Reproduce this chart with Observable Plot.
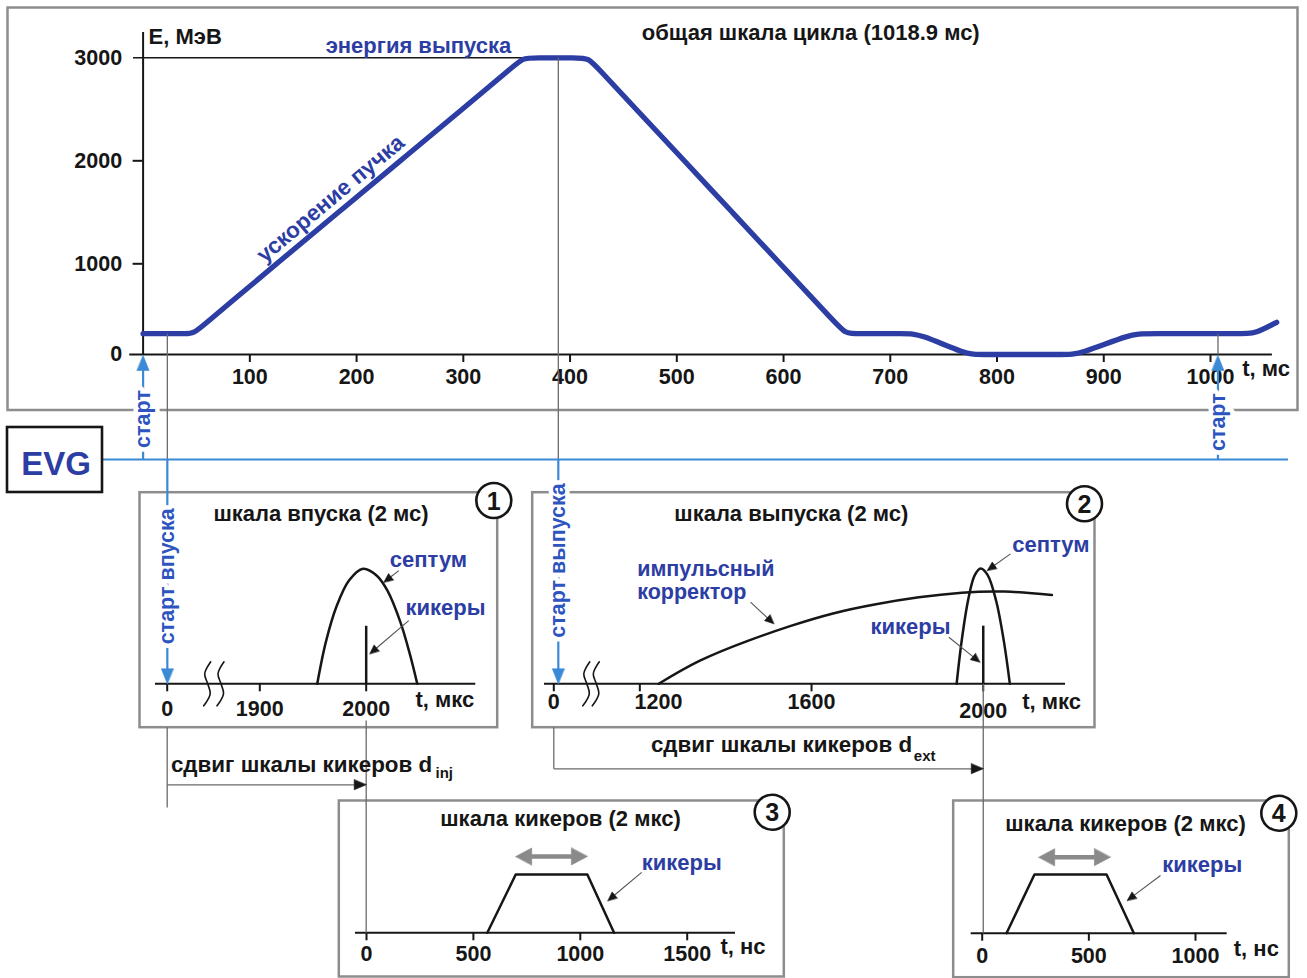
<!DOCTYPE html>
<html lang="ru">
<head>
<meta charset="utf-8">
<title>Шкалы синхронизации</title>
<script src="https://cdn.jsdelivr.net/npm/d3@7"></script>
<script src="https://cdn.jsdelivr.net/npm/@observablehq/plot@0.6"></script>
<style>
  html, body { margin: 0; padding: 0; background: #fff; }
  #root { position: relative; width: 1307px; height: 978px; overflow: hidden; background: #fff; }
  #root > svg { position: absolute; left: 0; top: 0; }
</style>
</head>
<body>
<div id="root"></div>
<script>
// ================= DATA =================
// Общая шкала цикла: энергия пучка E (МэВ) от времени t (мс)
const cycleT = [0, 28, 40, 47, 57, 86, 125, 183, 241, 300, 346, 356, 366, 407, 417, 427, 462, 507, 552, 597, 648, 658, 668, 715, 727, 771, 783, 865, 877, 926, 938, 1030, 1042, 1062];
const cycleE = [230, 230, 230, 230, 328, 614, 1000, 1501, 2000, 2510, 2908, 3000, 3000, 3000, 3000, 2889, 2500, 2000, 1500, 1000, 356, 230, 230, 230, 230, 0, 0, 0, 0, 230, 230, 230, 230, 355];
const energyTicks = [0, 1000, 2000, 3000];
const cycleTicks = [100, 200, 300, 400, 500, 600, 700, 800, 900, 1000];
const extractionEnergy = 3000;
const injectionEnergy = 230;
const cycleLength = 1018.9;
const injectionStart = 22.7, extractionStart = 389, nextCycleStart = 1007; // мс

// (1) шкала впуска, мкс; относительные амплитуды
const injTicks = [0, 1900, 2000];
const injSeptumT = [1954, 1962, 1972, 1984, 1997, 2010, 2020, 2032, 2041, 2048];
const injSeptumA = [0, 0.36, 0.67, 0.90, 1.0, 0.94, 0.81, 0.54, 0.26, 0];
const injKickerT = 2000, injKickerA = 0.5;

// (2) шкала выпуска, мкс
const extTicks = [0, 1200, 1600, 2000];
const extCorrT = [1244, 1340, 1450, 1550, 1650, 1750, 1850, 1950, 2050, 2160];
const extCorrA = [0, 0.20, 0.37, 0.50, 0.61, 0.69, 0.75, 0.79, 0.80, 0.77];
const extSeptumT = [1938, 1950, 1965, 1980, 1994, 2010, 2030, 2048, 2062];
const extSeptumA = [0, 0.38, 0.73, 0.94, 1.0, 0.945, 0.72, 0.37, 0];
const extKickerT = 2000, extKickerA = 0.5;

// (3), (4) шкалы кикеров, нс
const kick3Ticks = [0, 500, 1000, 1500];
const kick3T = [565, 698, 1033, 1158];
const kick3A = [0, 1, 1, 0];
const kick4Ticks = [0, 500, 1000];
const kick4T = [114, 245, 583, 711];
const kick4A = [0, 1, 1, 0];

// ================= STYLE / LAYOUT =================
const W = 1307, H = 978;
const FONT = "'Liberation Sans', Arial, Helvetica, sans-serif";
const INK = "#161616", DARK = "#2c3da3", LIGHT = "#3a8ad6", START = "#2e55bf",
      FRAME = "#8d8d8d", GREY = "#6a6a6a", ARROWG = "#8a8a8a";
const LAY = {
  topBox: [7, 7, 1297, 409.5],
  p1Box: [139, 491.7, 496.7, 726.7],
  p2Box: [531.7, 491.7, 1094, 726.7],
  p3Box: [338.3, 800, 783.3, 976],
  p4Box: [952.7, 800, 1288.3, 976.7],
  evgY: 459, evgBox: [7, 427, 102, 492], evgEnd: 1288,
  dInjY: 784.3, dInjDrop: 807, dExtY: 768.3, panelBottom: 726.7, labelBelow: 720
};

const root = document.getElementById("root");
const f = (size, extra = {}) => ({fontFamily: FONT, fontWeight: "bold", fontSize: size, fill: INK, ...extra});
const rows = (xs, ys) => xs.map((v, i) => ({t: v, v: ys[i]}));

function mount(svg) {
  svg.style.position = "absolute"; svg.style.left = "0px"; svg.style.top = "0px";
  svg.style.background = "transparent"; svg.style.overflow = "visible";
  root.appendChild(svg);
  return svg;
}
function framed(box, x, y, marks) {
  const [l, t, r, b] = box;
  return mount(Plot.plot({
    width: W, height: H, marginLeft: l, marginTop: t, marginRight: W - r, marginBottom: H - b,
    x: {...x, axis: null}, y: {...y, axis: null},
    style: {background: "transparent", overflow: "visible"},
    marks: [Plot.frame({stroke: FRAME, strokeWidth: 2.5}), ...marks]
  }));
}
function badge(n, dx, dy) {
  return [
    Plot.dot([n], {frameAnchor: "top-right", dx, dy, r: 17.5, fill: "white", stroke: INK, strokeWidth: 2.6}),
    Plot.text([n], {frameAnchor: "top-right", dx, dy: dy + 1, text: d => String(d), textAnchor: "middle", lineAnchor: "middle", ...f(25)})
  ];
}
function title(s, dx, dy) {
  return Plot.text([s], {frameAnchor: "top-left", dx, dy, text: d => d, textAnchor: "middle", lineAnchor: "bottom", ...f(22)});
}
function baseAxis(ticks, x1, x2) {
  return [
    Plot.ruleY([0], {x1, x2, stroke: INK, strokeWidth: 2}),
    Plot.ruleX(ticks, {y1: 0, y2: 0, insetBottom: -8, stroke: INK, strokeWidth: 2})
  ];
}
const tickText = (ticks, dy, extra = {}) =>
  Plot.text(ticks, {x: d => d, y: 0, text: d => String(d), lineAnchor: "bottom", dy, ...f(21.5), ...extra});
const label = (s, x, y, extra = {}) =>
  Plot.text([s], {x, y, text: d => d, textAnchor: "start", lineAnchor: "bottom", ...f(22, {fill: DARK}), ...extra});

// ================= TOP: общая шкала цикла =================
const topPlot = framed(LAY.topBox,
  {type: "linear", domain: [0, 1000], range: [142.6, 1210]},
  {type: "linear", domain: [0, 1000, 3000], range: [354, 263.3, 57.3]},
  [
    Plot.ruleY([extractionEnergy], {x1: -9, x2: 362, stroke: INK, strokeWidth: 1.6}),
    Plot.ruleX([0], {y1: 0, y2: 3245, stroke: INK, strokeWidth: 2}),
    Plot.ruleY([0], {x1: -12.5, x2: 1058, stroke: INK, strokeWidth: 2}),
    Plot.ruleY(energyTicks.filter(d => d > 0 && d < extractionEnergy), {x1: 0, x2: 0, insetLeft: -10, stroke: INK, strokeWidth: 2}),
    Plot.ruleX(cycleTicks, {y1: 0, y2: 0, insetBottom: -8, stroke: INK, strokeWidth: 2}),
    Plot.line(cycleT.map((t, i) => ({t, E: cycleE[i]})), {x: "t", y: "E", curve: "basis", stroke: DARK, strokeWidth: 5.3, strokeLinecap: "round"}),
    Plot.text(energyTicks, {x: 0, y: d => d, text: d => String(d), textAnchor: "end", dx: -21, ...f(21.5)}),
    tickText(cycleTicks, 29),
    Plot.text(["t, мс"], {x: 1029.7, y: 0, dy: 21, text: d => d, textAnchor: "start", lineAnchor: "bottom", ...f(22)}),
    Plot.text(["E, МэВ"], {x: 0, y: extractionEnergy, dx: 5.5, dy: -14.3, text: d => d, textAnchor: "start", lineAnchor: "bottom", ...f(22)}),
    label("энергия выпуска", 171, extractionEnergy, {dy: -5.3}),
    Plot.text([`общая шкала цикла (${cycleLength} мс)`], {x: 625.5, y: extractionEnergy, dy: -18.3, text: d => d, textAnchor: "middle", lineAnchor: "bottom", ...f(22)}),
    Plot.text(["ускорение пучка"], {x: 175.6, y: 1632, rotate: -40, text: d => d, textAnchor: "middle", ...f(22.5, {fill: DARK})})
  ]);

// ================= (1) шкала впуска =================
const p1 = framed(LAY.p1Box,
  {type: "linear", domain: [0, 1850, 2105], range: [166.7, 206.1, 477.4]},
  {type: "linear", domain: [0, 1], range: [683.3, 568.3]},
  [
    ...baseAxis(injTicks, -550, 2103),
    Plot.line(rows(injSeptumT, injSeptumA), {x: "t", y: "v", curve: "catmull-rom", stroke: INK, strokeWidth: 2.5}),
    Plot.ruleX([injKickerT], {y1: 0, y2: injKickerA, stroke: INK, strokeWidth: 2.5}),
    tickText(injTicks, 32),
    Plot.text(["t, мкс"], {x: 2046.3, y: 0, dy: 23.4, text: d => d, textAnchor: "start", lineAnchor: "bottom", ...f(22)}),
    label("септум", 2022.2, 1.014),
    label("кикеры", 2036.9, 0.594),
    title("шкала впуска (2 мс)", 181.5, 28.3),
    ...badge(1, -3.4, 8.3)
  ]);

// ================= (2) шкала выпуска =================
const p2 = framed(LAY.p2Box,
  {type: "linear", domain: [0, 1100, 2200], range: [553.3, 596.4, 1068.6]},
  {type: "linear", domain: [0, 1], range: [683.3, 568]},
  [
    ...baseAxis(extTicks, -237, 2191.7),
    Plot.line(rows(extCorrT, extCorrA), {x: "t", y: "v", curve: "natural", stroke: INK, strokeWidth: 2.5}),
    Plot.line(rows(extSeptumT, extSeptumA), {x: "t", y: "v", curve: "catmull-rom", stroke: INK, strokeWidth: 2.5}),
    Plot.ruleX([extKickerT], {y1: 0, y2: extKickerA, stroke: INK, strokeWidth: 2.5}),
    tickText(extTicks.filter(d => d === 0 || d === 1600), 25),
    tickText(extTicks.filter(d => d === 1200), 25, {dx: 18.7}),
    tickText(extTicks.filter(d => d === 2000), 34),
    Plot.text(["t, мкс"], {x: 2090.8, y: 0, dy: 25, text: d => d, textAnchor: "start", lineAnchor: "bottom", ...f(22)}),
    label("септум", 2067.5, 1.141),
    label("кикеры", 1737.5, 0.434),
    label("импульсный", 1193.9, 0.933, {fontSize: 21.5}),
    label("корректор", 1193.9, 0.733, {fontSize: 21.5}),
    title("шкала выпуска (2 мс)", 259.1, 28.3),
    ...badge(2, -10, 11.6)
  ]);

// ================= (3) шкала кикеров (впуск) =================
const p3 = framed(LAY.p3Box,
  {type: "linear", domain: [0, 1500], range: [366, 686.7]},
  {type: "linear", domain: [0, 1], range: [932.3, 874]},
  [
    ...baseAxis(kick3Ticks, -51.4, 1726),
    Plot.line(rows(kick3T, kick3A), {x: "t", y: "v", stroke: INK, strokeWidth: 2.5}),
    tickText(kick3Ticks, 27.7),
    Plot.text(["t, нс"], {x: 1655.7, y: 0, dy: 20.7, text: d => d, textAnchor: "start", lineAnchor: "bottom", ...f(22)}),
    label("кикеры", 1287, 1.08),
    title("шкала кикеров (2 мкс)", 221.7, 25),
    ...badge(3, -11.6, 11.7)
  ]);

// ================= (4) шкала кикеров (выпуск) =================
const p4 = framed(LAY.p4Box,
  {type: "linear", domain: [0, 1000], range: [981.7, 1195]},
  {type: "linear", domain: [0, 1], range: [932.7, 874]},
  [
    ...baseAxis(kick4Ticks, -51.6, 1148.6),
    Plot.line(rows(kick4T, kick4A), {x: "t", y: "v", stroke: INK, strokeWidth: 2.5}),
    tickText(kick4Ticks, 29.5),
    Plot.text(["t, нс"], {x: 1179.5, y: 0, dy: 22.3, text: d => d, textAnchor: "start", lineAnchor: "bottom", ...f(22)}),
    label("кикеры", 843.9, 1.039),
    title("шкала кикеров (2 мкс)", 172.3, 30),
    ...badge(4, -10, 12.7)
  ]);

// ================= OVERLAY: EVG, связи, стрелки =================
const sc = (p, k) => { const s = p.scale(k); return v => s.apply(v); };
const TX = sc(topPlot, "x"), TY = sc(topPlot, "y");
const X1 = sc(p1, "x"), Y1 = sc(p1, "y");
const X2 = sc(p2, "x"), Y2 = sc(p2, "y");
const X3 = sc(p3, "x"), Y3 = sc(p3, "y");
const X4 = sc(p4, "x"), Y4 = sc(p4, "y");

function arrow(x1, y1, x2, y2, len, hw) {
  const dx = x2 - x1, dy = y2 - y1, n = Math.hypot(dx, dy), ux = dx / n, uy = dy / n;
  const bx = x2 - ux * len, by = y2 - uy * len;
  return {shaft: {x1, y1, x2: bx + ux * 0.5, y2: by + uy * 0.5},
          head: [[x2, y2], [bx - uy * hw, by + ux * hw], [bx + uy * hw, by - ux * hw]]};
}
let hid = 0;
const headRows = (h) => { const id = hid++; return h.map(([x, y]) => ({id, x, y})); };

// gray connector lines
const greyLines = [
  {x1: TX(injectionStart), y1: TY(injectionEnergy), x2: TX(injectionStart), y2: LAY.evgY},
  {x1: TX(extractionStart), y1: TY(extractionEnergy), x2: TX(extractionStart), y2: LAY.evgY},
  {x1: TX(nextCycleStart), y1: TY(injectionEnergy), x2: TX(nextCycleStart), y2: TY(0)},
  {x1: X1(0), y1: LAY.panelBottom, x2: X1(0), y2: LAY.dInjDrop},
  {x1: X1(injKickerT), y1: LAY.labelBelow, x2: X1(injKickerT), y2: Y3(0)},
  {x1: X2(0), y1: LAY.panelBottom, x2: X2(0), y2: LAY.dExtY},
  {x1: X2(extKickerT), y1: Y2(0), x2: X2(extKickerT), y2: Y4(0)}
];

// blue start arrows from EVG
const blueArrows = [
  arrow(TX(0), LAY.evgY, TX(0), TY(0) + 1, 15, 6),
  arrow(TX(nextCycleStart), LAY.evgY, TX(nextCycleStart), TY(0) + 1, 15, 6),
  arrow(TX(injectionStart), LAY.evgY, TX(injectionStart), Y1(0), 15, 6),
  arrow(TX(extractionStart), LAY.evgY, TX(extractionStart), Y2(0), 15, 6)
];
// kicker delay arrows d_inj, d_ext
const shiftArrows = [
  arrow(X1(0), LAY.dInjY, X1(injKickerT), LAY.dInjY, 12, 5),
  arrow(X2(0), LAY.dExtY, X2(extKickerT), LAY.dExtY, 12, 5)
];
// pointer arrows of labels (defined in each panel's units)
const noteArrows = [
  arrow(X1(2030.7), Y1(0.984), X1(2016.6), Y1(0.883), 9, 4),
  arrow(X1(2040), Y1(0.55), X1(2003.4), Y1(0.261), 9, 4),
  arrow(X2(2063.6), Y2(1.127), X2(2009.3), Y2(0.983), 9, 4),
  arrow(X2(1919.9), Y2(0.404), X2(1992.1), Y2(0.187), 9, 4),
  arrow(X2(1457.9), Y2(0.708), X2(1512.2), Y2(0.52), 9, 4),
  arrow(X3(1287), Y3(1.037), X3(1128.6), Y3(0.55), 9, 4),
  arrow(X4(835.9), Y4(0.983), X4(679.8), Y4(0.557), 9, 4)
];
// gray double arrows over the kicker flat-top
function doubleArrow(xa, xb, y) {
  const a = arrow(xb, y, xa, y, 16, 8.5), b = arrow(xa, y, xb, y, 16, 8.5);
  return {shaft: {x1: a.shaft.x2, y1: y, x2: b.shaft.x2, y2: y}, heads: [a.head, b.head]};
}
const doubles = [
  doubleArrow(X3(kick3T[1]), X3(kick3T[2]), Y3(1.309)),
  doubleArrow(X4(kick4T[1] + 20), X4(kick4T[2] + 18), Y4(1.295))
];
// axis breaks (squiggles)
const squigShape = [[3.5, -22], [-2.5, -10], [0.5, 0], [3, 10], [-3.5, 22]];
const squigCenters = [[X1(0) + 40, Y1(0)], [X1(0) + 53.3, Y1(0)], [X2(0) + 32.5, Y2(0)], [X2(0) + 42, Y2(0)]];
const squigRows = squigCenters.flatMap(([cx, cy], id) => squigShape.map(([dx, dy]) => ({id, x: cx + dx, y: cy + dy})));

const startLabels = [
  {x: TX(0), y: 418.5, text: "старт"},
  {x: TX(nextCycleStart), y: 421.7, text: "старт"},
  {x: TX(injectionStart), y: 575.8, text: "старт впуска"},
  {x: TX(extractionStart), y: 560, text: "старт выпуска"}
];

const link = (data, stroke, strokeWidth) => Plot.link(data, {x1: "x1", y1: "y1", x2: "x2", y2: "y2", stroke, strokeWidth});
const heads = (list, fill) => Plot.line(list.flatMap(headRows), {x: "x", y: "y", z: "id", curve: "linear-closed", fill, stroke: fill, strokeWidth: 0.6});

mount(Plot.plot({
  width: W, height: H, margin: 0,
  x: {type: "identity", axis: null}, y: {type: "identity", axis: null},
  style: {background: "transparent", overflow: "visible"},
  marks: [
    link(greyLines, GREY, 1.3),
    Plot.ruleY([LAY.evgY], {x1: LAY.evgBox[2], x2: LAY.evgEnd, stroke: LIGHT, strokeWidth: 2.2}),
    Plot.rect([0], {x1: LAY.evgBox[0], y1: LAY.evgBox[1], x2: LAY.evgBox[2], y2: LAY.evgBox[3], fill: "white", stroke: INK, strokeWidth: 2.6}),
    Plot.text(["EVG"], {x: (LAY.evgBox[0] + LAY.evgBox[2]) / 2 + 1, y: 474, text: d => d, textAnchor: "middle", lineAnchor: "bottom", ...f(33, {fill: DARK})}),
    link(blueArrows.map(a => a.shaft), LIGHT, 2.2),
    heads(blueArrows.map(a => a.head), LIGHT),
    link(shiftArrows.map(a => a.shaft), GREY, 1.3),
    heads(shiftArrows.map(a => a.head), INK),
    link(noteArrows.map(a => a.shaft), "#555", 1.1),
    heads(noteArrows.map(a => a.head), INK),
    link(doubles.map(a => a.shaft), ARROWG, 4.5),
    heads(doubles.flatMap(a => a.heads), ARROWG),
    Plot.line(squigRows, {x: "x", y: "y", z: "id", curve: "catmull-rom", stroke: INK, strokeWidth: 1.6}),
    Plot.text(startLabels, {x: "x", y: "y", text: "text", rotate: -90, ...f(21.5, {fill: "white"}), stroke: "white", strokeWidth: 9, strokeLinejoin: "round"}),
    Plot.text(startLabels, {x: "x", y: "y", text: "text", rotate: -90, ...f(21.5, {fill: START})}),
    Plot.text(["сдвиг шкалы кикеров d"], {x: 431.7, y: 771.7, text: d => d, textAnchor: "end", lineAnchor: "bottom", ...f(22.4)}),
    Plot.text(["inj"], {x: 435, y: 777.3, text: d => d, textAnchor: "start", lineAnchor: "bottom", ...f(15)}),
    Plot.text(["сдвиг шкалы кикеров d"], {x: 911.7, y: 751.7, text: d => d, textAnchor: "end", lineAnchor: "bottom", ...f(22.4)}),
    Plot.text(["ext"], {x: 913.3, y: 760, text: d => d, textAnchor: "start", lineAnchor: "bottom", ...f(15)})
  ]
}));
</script>
</body>
</html>
